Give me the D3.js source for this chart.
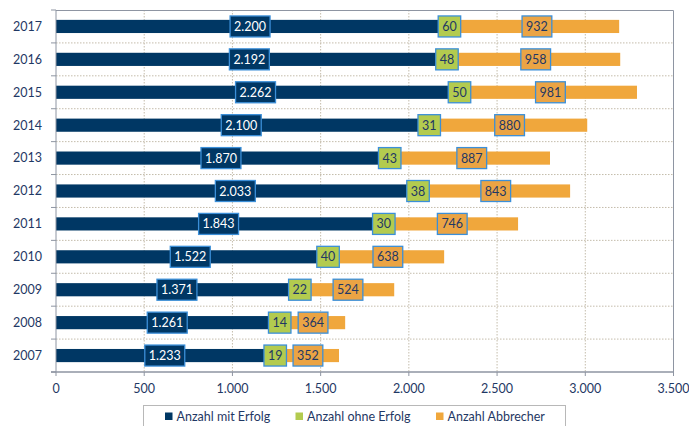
<!DOCTYPE html>
<html><head><meta charset="utf-8">
<script src="https://cdn.jsdelivr.net/npm/d3@7"></script>
<style>body{margin:0;background:#fff}svg{display:block}text{font-family:Lato,"Open Sans",sans-serif}</style>
</head><body><svg id="c" width="689" height="426"></svg>
<script>
const years = ["2017","2016","2015","2014","2013","2012","2011","2010","2009","2008","2007"];
const mitErfolg = [2200,2192,2262,2100,1870,2033,1843,1522,1371,1261,1233];
const ohneErfolg = [60,48,50,31,43,38,30,40,22,14,19];
const abbrecher = [932,958,981,880,887,843,746,638,524,364,352];
const xTicks = [0,500,1000,1500,2000,2500,3000,3500];
const seriesNames = ["Anzahl mit Erfolg","Anzahl ohne Erfolg","Anzahl Abbrecher"];
const colors = ["#003764","#b3cb4f","#f0a73c"];
const textColors = ["#ffffff","#1f3864","#1f3864"];

const svg = d3.select("#c");
const L=56, R=673.5, T=10, B=372;
const x = d3.scaleLinear().domain([0,3500]).range([L,R]);
const y = d3.scaleBand().domain(years).range([T,B]).paddingInner(0.6).paddingOuter(0.3);
const fmt = d3.formatLocale({decimal:",",thousands:".",grouping:[3]}).format(",");

// grid vertical
svg.append("g").selectAll("line").data(xTicks.slice(1,-1)).join("line")
  .attr("x1",d=>x(d)).attr("x2",d=>x(d)).attr("y1",T).attr("y2",B)
  .attr("stroke","#c4bcab").attr("stroke-dasharray","1.5,1.5").attr("stroke-width",1);
// grid horizontal at band boundaries
const step = (B-T)/years.length;
const bounds = d3.range(1,years.length).map(i=>T+i*step);
svg.append("g").selectAll("line").data(bounds).join("line")
  .attr("x1",L).attr("x2",R).attr("y1",d=>d).attr("y2",d=>d)
  .attr("stroke","#c4bcab").attr("stroke-dasharray","1.5,1.5").attr("stroke-width",1);
// border top/right
svg.append("path").attr("d",`M${L},${T+0.5}H${R}V${B}`).attr("fill","none").attr("stroke","#8e95a2").attr("stroke-width",1);

// stacked bars
const stackData = years.map((yr,i)=>({yr, v:[mitErfolg[i],ohneErfolg[i],abbrecher[i]]}));
const segs=[];
stackData.forEach(d=>{let acc=0;d.v.forEach((v,k)=>{segs.push({yr:d.yr,k,x0:acc,x1:acc+v,v});acc+=v;});});
svg.append("g").selectAll("rect").data(segs).join("rect")
  .attr("x",d=>x(d.x0)).attr("width",d=>x(d.x1)-x(d.x0))
  .attr("y",d=>y(d.yr)).attr("height",y.bandwidth())
  .attr("fill",d=>colors[d.k]);

// axes
const yAxisG = svg.append("g");
yAxisG.append("line").attr("x1",L).attr("x2",L).attr("y1",T).attr("y2",B).attr("stroke","#8e95a2");
yAxisG.selectAll("line.t").data([T,...bounds,B]).join("line").attr("class","t")
  .attr("x1",L-5).attr("x2",L).attr("y1",d=>d).attr("y2",d=>d).attr("stroke","#8e95a2");
yAxisG.selectAll("text").data(years).join("text")
  .attr("x",42).attr("y",d=>y(d)+y.bandwidth()/2).attr("dy","0.35em")
  .attr("text-anchor","end").attr("fill","#1f3864").attr("font-size","12.5px").text(d=>d);

const xAxisG = svg.append("g");
xAxisG.append("line").attr("x1",L-5).attr("x2",R).attr("y1",B).attr("y2",B).attr("stroke","#8e95a2").attr("stroke-width",1.5);
xAxisG.selectAll("line.t").data(xTicks).join("line").attr("class","t")
  .attr("x1",d=>x(d)).attr("x2",d=>x(d)).attr("y1",B).attr("y2",B+4).attr("stroke","#8e95a2");
xAxisG.selectAll("text").data(xTicks).join("text")
  .attr("x",d=>x(d)).attr("y",B+17).attr("dy","0.35em").attr("text-anchor","middle")
  .attr("fill","#1f3864").attr("font-size","12.5px").text(d=>fmt(d));

// data labels
const lg = svg.append("g");
segs.forEach(d=>{
  const cx=(x(d.x0)+x(d.x1))/2, cy=y(d.yr)+y.bandwidth()/2;
  const g=lg.append("g");
  const t=g.append("text").attr("x",cx).attr("y",cy).attr("dy","0.36em").attr("text-anchor","middle")
    .attr("font-size","12.5px").attr("fill",textColors[d.k]).text(fmt(d.v));
  const w=t.node().getComputedTextLength()+8;
  g.insert("rect","text").attr("x",cx-w/2).attr("y",cy-10.5).attr("width",w).attr("height",21)
    .attr("fill",d.k===2?"#eba444":colors[d.k]).attr("stroke","#3b8fd8").attr("stroke-width",1.3);
});

// legend
const leg = svg.append("g");
leg.append("rect").attr("x",143.5).attr("y",405.5).attr("width",422).attr("height",30)
  .attr("fill","#fff").attr("stroke","#b8b8b8");
const legX=[165,295.5,436];
seriesNames.forEach((n,i)=>{
  leg.append("rect").attr("x",legX[i]).attr("y",412.5).attr("width",7.5).attr("height",7.5).attr("fill",colors[i]);
  leg.append("text").attr("x",legX[i]+11.5).attr("y",416.5).attr("dy","0.35em").attr("fill","#1f3864")
    .attr("font-size","12.5px").text(n);
});
</script></body></html>
